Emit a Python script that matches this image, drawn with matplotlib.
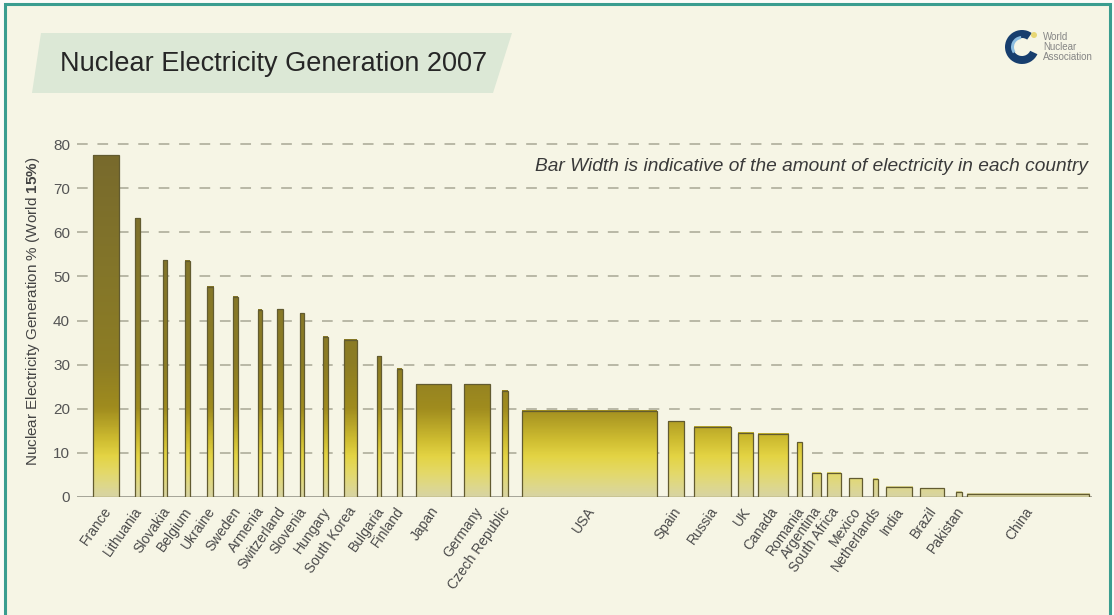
import numpy as np
import matplotlib.pyplot as plt
from matplotlib.colors import LinearSegmentedColormap
from matplotlib.patches import Rectangle, Polygon, Circle, Wedge

plt.rcParams['font.family'] = ['Liberation Sans', 'DejaVu Sans']
plt.rcParams['mathtext.fontset'] = 'custom'
plt.rcParams['mathtext.rm'] = 'Liberation Sans'
plt.rcParams['mathtext.bf'] = 'Liberation Sans:bold'

#%% data
countries = ["France", "Lithuania", "Slovakia", "Belgium", "Ukraine", "Sweden",
             "Armenia", "Switzerland", "Slovenia", "Hungary", "South Korea",
             "Bulgaria", "Finland", "Japan", "Germany", "Czech Republic", "USA",
             "Spain", "Russia", "UK", "Canada", "Romania", "Argentina",
             "South Africa", "Mexico", "Netherlands", "India", "Brazil",
             "Pakistan", "China"]
nuclear_share = [77.5, 63.2, 53.7, 53.5, 47.7, 45.4, 42.4, 42.5, 41.7, 36.3,
                 35.6, 31.9, 29.1, 25.6, 25.5, 24.1, 19.5, 17.2, 15.9, 14.6,
                 14.3, 12.4, 5.5, 5.5, 4.3, 4.1, 2.3, 2.0, 1.2, 0.7]
# bar width ~ amount of electricity (arbitrary units on the x axis)
elec_width = [25.7, 5.0, 4.6, 4.7, 6.3, 5.0, 3.7, 5.4, 4.0, 4.4, 13.0, 4.3,
              5.0, 35.0, 26.0, 5.4, 134.7, 16.9, 36.8, 15.3, 30.2, 4.2, 8.8,
              13.4, 13.0, 5.0, 26.7, 23.7, 5.7, 122.5]
x_start = [16.3, 58.0, 85.7, 108.0, 129.7, 156.0, 181.0, 200.3, 223.0, 246.3,
           267.3, 300.0, 319.7, 339.0, 387.3, 425.3, 445.2, 590.6, 617.4, 661.0,
           680.6, 720.4, 734.9, 750.2, 772.0, 796.1, 808.8, 843.2, 879.2, 889.9]
y_ticks = [0, 10, 20, 30, 40, 50, 60, 70, 80]

#%% figure
bg = '#f6f5e5'
fig = plt.figure(figsize=(11.14, 6.15), dpi=100)
fig.patch.set_facecolor('#fbfbf8')

# cream panel with teal frame
fig.patches.append(Rectangle((5/1114, -0.01), 1105/1114, 1 - 4/615 + 0.01,
                             transform=fig.transFigure, facecolor=bg,
                             edgecolor='#3a9d8f', lw=2.2, zorder=-10))
# title band
band = [(41, 33), (512, 33), (493, 93), (32, 93)]
fig.patches.append(Polygon([(x/1114, 1 - y/615) for x, y in band], closed=True,
                           transform=fig.transFigure, facecolor='#dce8d6',
                           edgecolor='none', zorder=-9))
fig.text(60/1114, 1 - 64/615, "Nuclear Electricity Generation 2007",
         fontsize=19.5, color='#262626', va='center', ha='left')

# logo
cx, cy = 1022, 615 - 47
fig.patches.append(Wedge((cx, cy), 17, 55, 335, width=8,
                         transform=None, facecolor='#173e6e', edgecolor='none'))
fig.patches.append(Wedge((cx, cy), 11, 95, 215, width=3,
                         transform=None, facecolor='#8dbde0', edgecolor='none'))
fig.patches.append(Circle((cx + 12, cy + 12), 3, transform=None,
                          facecolor='#e8d774', edgecolor='none'))
fig.text(1043/1114, cy/615, "World\nNuclear\nAssociation", fontsize=7,
         color='#858585', va='center', ha='left', linespacing=0.95)

ax = fig.add_axes([77/1114, 1 - 497/615, 1015/1114, 357.4/615])
ax.set_facecolor('none')

cmap = LinearSegmentedColormap.from_list('nuc', [
    (0.0, '#d8d4a2'), (2/80, '#ddd78e'), (5/80, '#e3d96c'), (9/80, '#e4d444'),
    (13/80, '#cdbb30'), (20/80, '#a08c1e'), (30/80, '#8d7d24'),
    (50/80, '#847629'), (1.0, '#77692d')])

for y in y_ticks[1:]:
    ax.axhline(y, color='#b9b8a6', lw=1.4, ls=(0, (5.5, 5)), zorder=1)
ax.axhline(0, color='#8e8d80', lw=1.8, zorder=1)

for x0, w, h in zip(x_start, elec_width, nuclear_share):
    ys = np.linspace(0, h, 200).reshape(-1, 1)
    ax.imshow(ys, cmap=cmap, vmin=0, vmax=80, origin='lower', aspect='auto',
              extent=[x0, x0 + w, 0, h], interpolation='bilinear', zorder=2)
    ax.add_patch(Rectangle((x0, 0), w, h, fill=False, edgecolor='#625b30',
                           lw=0.9, zorder=3))

for x0, w, name in zip(x_start, elec_width, countries):
    ax.text(x0 + w / 2 + 2, -2.6, name, rotation=55, rotation_mode='anchor',
            ha='right', va='center', fontsize=10, color='#4a4a4a')

ax.text(1011, 75, "Bar Width is indicative of the amount of electricity in each country",
        ha='right', va='center', style='italic', fontsize=13.8, color='#3a3a3a')

ax.set_xlim(0, 1015)
ax.set_ylim(0, 81)
ax.set_yticks(y_ticks)
ax.set_xticks([])
ax.tick_params(axis='y', length=0, pad=5, labelsize=11, labelcolor='#555555')
for s in ax.spines.values():
    s.set_visible(False)

fig.text(33/1114, 1 - 311/615,
         r"Nuclear Electricity Generation % (World $\mathbf{15\%}$)",
         rotation=90, ha='center', va='center', fontsize=11, color='#444444')

fig.savefig('out.png', dpi=100, facecolor=fig.get_facecolor())
